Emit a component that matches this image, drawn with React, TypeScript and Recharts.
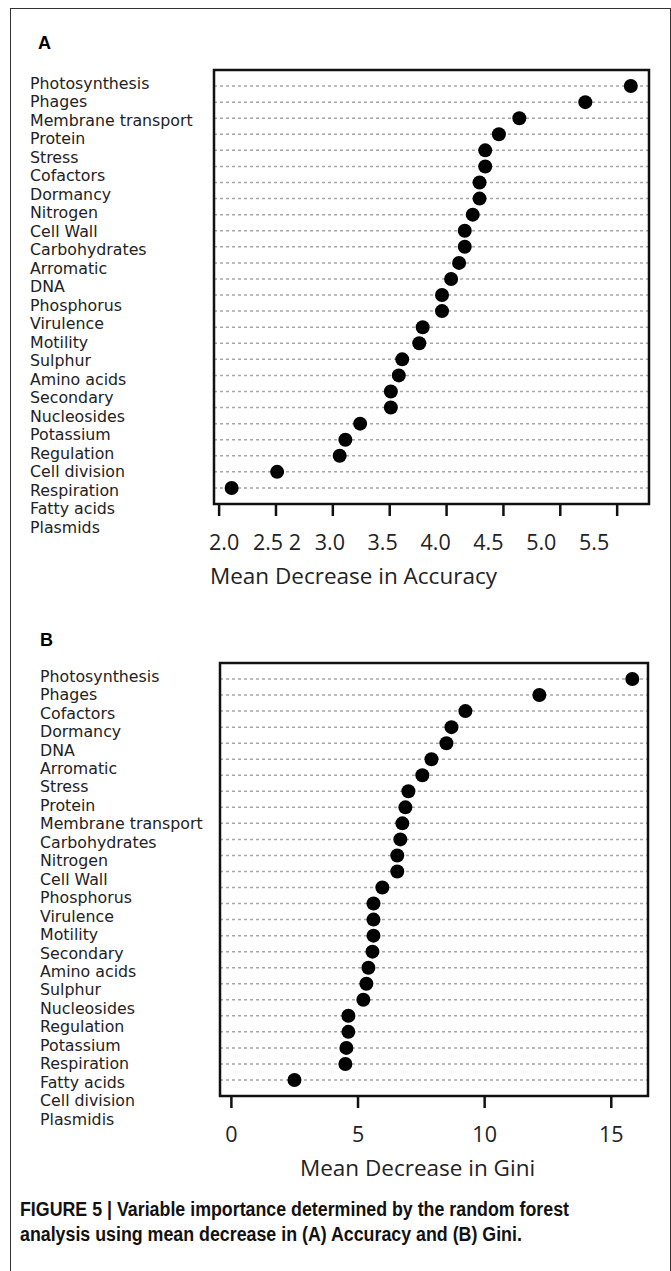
import React from 'react';
import { ScatterChart, Scatter, XAxis, YAxis, CartesianGrid, ReferenceArea } from 'recharts';

// Panel A: mean decrease in accuracy
const accuracyLabels = [
  'Photosynthesis', 'Phages', 'Membrane transport', 'Protein', 'Stress', 'Cofactors',
  'Dormancy', 'Nitrogen', 'Cell Wall', 'Carbohydrates', 'Arromatic', 'DNA', 'Phosphorus',
  'Virulence', 'Motility', 'Sulphur', 'Amino acids', 'Secondary', 'Nucleosides',
  'Potassium', 'Regulation', 'Cell division', 'Respiration', 'Fatty acids', 'Plasmids',
];
const accuracyScores = [
  5.62, 5.22, 4.64, 4.46, 4.34, 4.34, 4.29, 4.29, 4.23, 4.16, 4.16, 4.11, 4.04,
  3.96, 3.96, 3.79, 3.76, 3.61, 3.58, 3.51, 3.51, 3.24, 3.11, 3.06, 2.51, 2.11,
];
const accuracyTicks = [2, 2.5, 3, 3.5, 4, 4.5, 5, 5.5];
const accuracyTickLabels = ['2.0', '2.5 2', '3.0', '3.5', '4.0', '4.5', '5.0', '5.5'];

// Panel B: mean decrease in Gini
const giniLabels = [
  'Photosynthesis', 'Phages', 'Cofactors', 'Dormancy', 'DNA', 'Arromatic', 'Stress',
  'Protein', 'Membrane transport', 'Carbohydrates', 'Nitrogen', 'Cell Wall', 'Phosphorus',
  'Virulence', 'Motility', 'Secondary', 'Amino acids', 'Sulphur', 'Nucleosides',
  'Regulation', 'Potassium', 'Respiration', 'Fatty acids', 'Cell division', 'Plasmidis',
];
const giniScores = [
  15.83, 12.16, 9.24, 8.69, 8.49, 7.9, 7.54, 6.99, 6.87, 6.75, 6.67, 6.55, 6.55,
  5.96, 5.61, 5.61, 5.61, 5.57, 5.41, 5.33, 5.21, 4.62, 4.62, 4.54, 4.5, 2.49,
];
const giniTicks = [0, 5, 10, 15];
const giniTickLabels = ['0', '5', '10', '15'];

const AXIS_FONT = '"Open Sans", "Noto Sans", sans-serif';
const LABEL_FONT = '"DejaVu Sans", sans-serif';
const CHART_W = 671;
const CHART_H = 600;
const AXIS_H = 90;

interface PanelProps {
  letter: string;
  labels: string[];
  scores: number[];
  ticks: number[];
  tickLabels: string[];
  domain: [number, number];
  title: string;
  top: number;
  letterLeft: number;
  letterTop: number;
  labelLeft: number;
  labelTop: number;
  labelStep: number;
  plotLeft: number;
  plotRight: number;
  plotTop: number;
  plotBottom: number;
  titleDx: number;
  drift: (v: number) => number;
}

function Panel(p: PanelProps) {
  const data = p.scores.map((score, i) => ({ score, row: i + 1 }));
  const rows = data.map(d => d.row);

  const renderTick = (props: any) => {
    const { x, y, payload } = props;
    const idx = p.ticks.indexOf(payload.value);
    return (
      <text x={x + p.drift(payload.value)} y={y} dy="0.71em" textAnchor="middle"
        fontSize={21.5} fontFamily={AXIS_FONT} fill="#222">
        {p.tickLabels[idx]}
      </text>
    );
  };

  const renderTitle = (props: any) => {
    const vb = props.viewBox;
    return (
      <text x={vb.x + p.titleDx} y={vb.y + 80} fontSize={22.5} fontFamily={AXIS_FONT} fill="#222">
        {p.title}
      </text>
    );
  };

  return (
    <div style={{ position: 'absolute', left: 0, top: p.top, width: CHART_W, height: CHART_H }}>
      <div style={{
        position: 'absolute', left: p.letterLeft, top: p.letterTop,
        fontFamily: 'Arial, "Liberation Sans", sans-serif', fontWeight: 'bold', fontSize: 18,
      }}>
        {p.letter}
      </div>
      <div style={{
        position: 'absolute', left: p.labelLeft, top: p.labelTop,
        fontFamily: LABEL_FONT, fontSize: 15.8, lineHeight: `${p.labelStep}px`, color: '#222',
        whiteSpace: 'nowrap',
      }}>
        {p.labels.map(l => <div key={l}>{l}</div>)}
      </div>
      <div style={{ position: 'absolute', left: 0, top: 0 }}>
        <ScatterChart
          width={CHART_W}
          height={CHART_H}
          margin={{
            top: p.plotTop,
            left: p.plotLeft,
            right: CHART_W - p.plotRight,
            bottom: CHART_H - p.plotBottom - AXIS_H,
          }}
        >
          <CartesianGrid vertical={false} stroke="#a6a6a6" strokeWidth={1.5} strokeDasharray="3 3" />
          <XAxis
            type="number"
            dataKey="score"
            domain={p.domain}
            ticks={p.ticks}
            interval={0}
            allowDataOverflow
            height={AXIS_H}
            axisLine={false}
            stroke="#111"
            tickSize={12}
            tickMargin={19}
            tickLine={{ stroke: '#111', strokeWidth: 2.5 }}
            tick={renderTick}
            label={{ content: renderTitle }}
          />
          <YAxis
            type="number"
            dataKey="row"
            domain={[0, rows.length + 1]}
            ticks={rows}
            interval={0}
            reversed
            hide
          />
          <ReferenceArea
            x1={p.domain[0]}
            x2={p.domain[1]}
            y1={0}
            y2={rows.length + 1}
            fill="none"
            fillOpacity={0}
            stroke="#111"
            strokeWidth={2.5}
            ifOverflow="visible"
          />
          <Scatter
            data={data}
            isAnimationActive={false}
            shape={(s: any) => <circle cx={s.cx} cy={s.cy} r={7} fill="#000" />}
          />
        </ScatterChart>
      </div>
    </div>
  );
}

export default function App() {
  return (
    <div style={{ position: 'relative', width: 671, height: 1271, overflow: 'hidden', background: '#fff' }}>
      <style>{'body{margin:0}'}</style>
      <div style={{
        position: 'absolute', left: 10, top: 8, width: 659, height: 1300,
        border: '1px solid #333',
      }} />
      <Panel
        letter="A"
        labels={accuracyLabels}
        scores={accuracyScores}
        ticks={accuracyTicks}
        tickLabels={accuracyTickLabels}
        domain={[1.955, 5.78]}
        title="Mean Decrease in Accuracy"
        top={0}
        letterLeft={38}
        letterTop={33}
        labelLeft={30}
        labelTop={74.75}
        labelStep={18.5}
        plotLeft={214}
        plotRight={649}
        plotTop={70}
        plotBottom={504}
        titleDx={-4}
        drift={v => 5 - (v - 2) * 8}
      />
      <Panel
        letter="B"
        labels={giniLabels}
        scores={giniScores}
        ticks={giniTicks}
        tickLabels={giniTickLabels}
        domain={[-0.45, 16.45]}
        title="Mean Decrease in Gini"
        top={600}
        letterLeft={40}
        letterTop={30}
        labelLeft={40}
        labelTop={67.75}
        labelStep={18.46}
        plotLeft={220}
        plotRight={648}
        plotTop={63}
        plotBottom={496}
        titleDx={80}
        drift={() => 0}
      />
      <div style={{
        position: 'absolute', left: 20, top: 1197, width: 700,
        fontFamily: 'Arial, "Liberation Sans", sans-serif',
        fontWeight: 'bold', fontSize: 20, lineHeight: '25px', color: '#111',
        transform: 'scaleX(0.89)', transformOrigin: 'left top', whiteSpace: 'nowrap',
      }}>
        FIGURE 5 | Variable importance determined by the random forest<br />
        analysis using mean decrease in (A) Accuracy and (B) Gini.
      </div>
    </div>
  );
}
